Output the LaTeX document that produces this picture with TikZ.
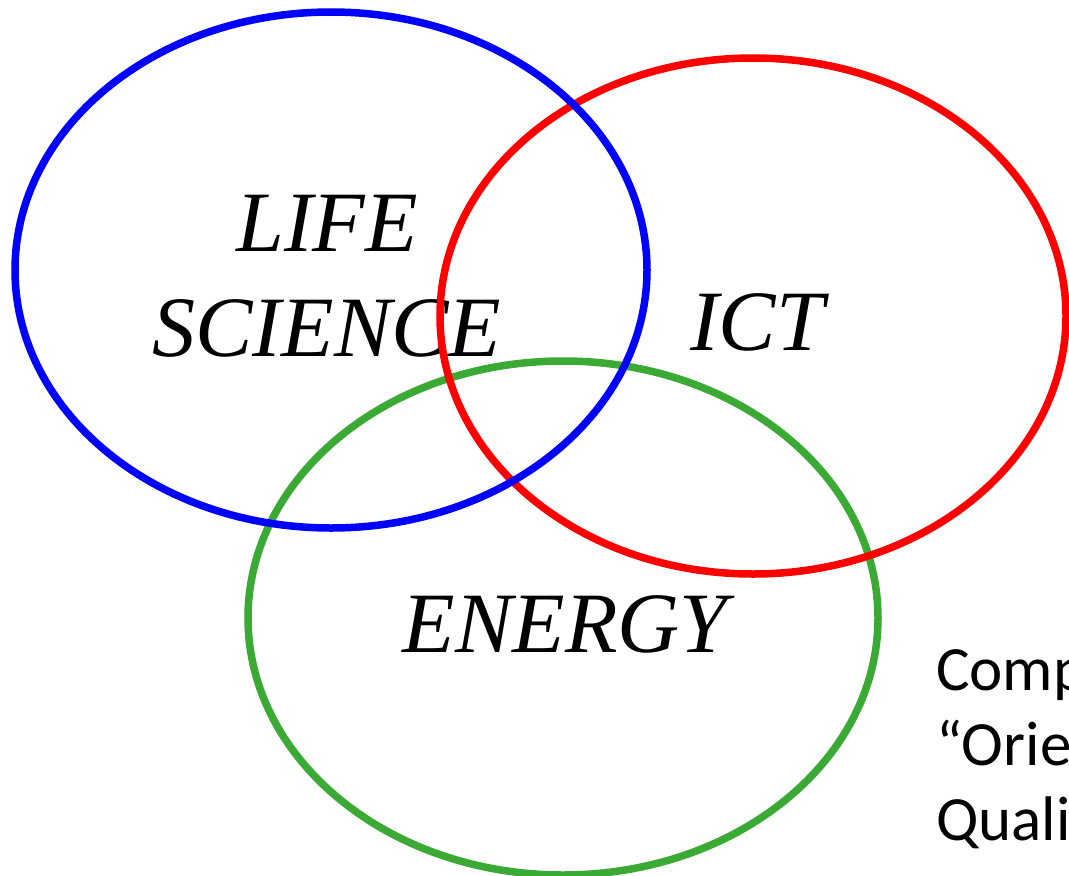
\documentclass[tikz,border=0pt]{standalone}
\usepackage{fontspec}
\setmainfont{Liberation Serif}
\newfontfamily\calibrifont{Carlito}
\definecolor{lifeblue}{RGB}{0,0,255}
\definecolor{ictred}{RGB}{255,0,0}
\definecolor{energygreen}{RGB}{58,170,52}
\tikzset{
  field/.style={line width=7.5pt},
  fieldname/.style={font=\fontsize{86}{105}\selectfont\itshape, align=center, inner sep=0pt},
  note/.style={font=\calibrifont\fontsize{63}{75}\selectfont, align=left, inner sep=0pt, anchor=base west}
}
\begin{document}
\begin{tikzpicture}[x=1pt,y=-1pt]%
        \useasboundingbox (0,0) rectangle (1069,876);
        \clip (0,0) rectangle (1069,876);
        \coordinate (life) at (331,270);
        \coordinate (ict) at (753,316);
        \coordinate (energy) at (563,618);
        \node[fieldname] (lifesci) at (327,276) {LIFE\\SCIENCE};
        \node[fieldname, anchor=base] (ictname) at (757,350) {ICT};
        \node[fieldname, anchor=base] (energyname) at (565,652) {ENERGY};
        \node[note] (comp) at (936,840) {Comp\\\textquotedblleft Orie\\Quali};
        \draw[field, energygreen] (energy) ellipse [x radius=315pt, y radius=257pt];
        \draw[field, ictred] (ict) ellipse [x radius=313pt, y radius=258pt];
        \draw[field, lifeblue] (life) ellipse [x radius=316pt, y radius=258pt];
    \end{tikzpicture}
\end{document}
